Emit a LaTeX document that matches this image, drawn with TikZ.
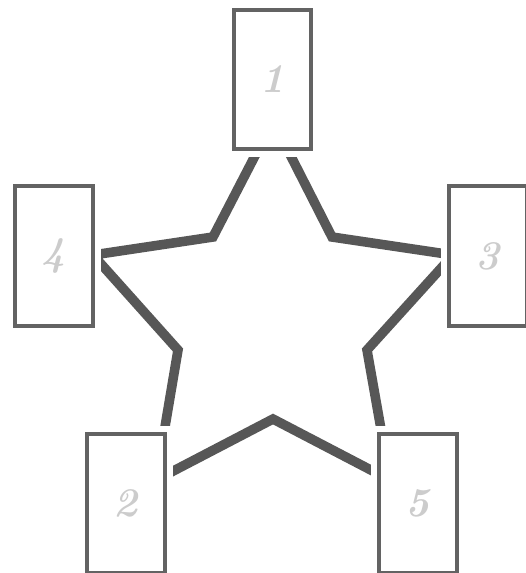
\documentclass[tikz,border=0pt]{standalone}
\usepackage{tikz}

\definecolor{boxgray}{HTML}{636363}
\definecolor{stargray}{HTML}{575757}
\definecolor{labelgray}{HTML}{CCCCCC}

\tikzset{
  seat/.style={draw=boxgray, line width=2.9pt, fill=white, inner sep=0pt,
    minimum width=1.93cm, minimum height=3.48cm,
    preaction={draw=white, line width=11.5pt},
    text=labelgray, font=\fontsize{29}{30}\selectfont\bfseries\itshape},
  starline/.style={draw=stargray, line width=6.8pt, line join=miter}
}

\begin{document}
\begin{tikzpicture}[x=0.025cm, y=-0.025cm]
        \useasboundingbox (0,0) rectangle (526,573);
        \clip (0,0) rectangle (526,573);

        % Star outline, outer points sit under the boxes
        \coordinate (o1) at (273,121);
        \coordinate (i12) at (332,237);
        \coordinate (o3) at (453,255);
        \coordinate (i35) at (367,350);
        \coordinate (o5) at (390,480);
        \coordinate (i52) at (273,419);
        \coordinate (o2) at (156,480);
        \coordinate (i24) at (178,350);
        \coordinate (o4) at (93,255);
        \coordinate (i41) at (213,237);

        \draw[starline] (o1) -- (i12) -- (o3) -- (i35) -- (o5) -- (i52)
          -- (o2) -- (i24) -- (o4) -- (i41) -- cycle;

        % Boxes on top
        \foreach \name/\x/\y in {1/272.5/79.5, 4/54/256, 3/488/256, 2/126/503.5, 5/418/503.5} {
          \node[seat] (box\name) at (\x,\y) {\name};
        }
    \end{tikzpicture}
\end{document}
